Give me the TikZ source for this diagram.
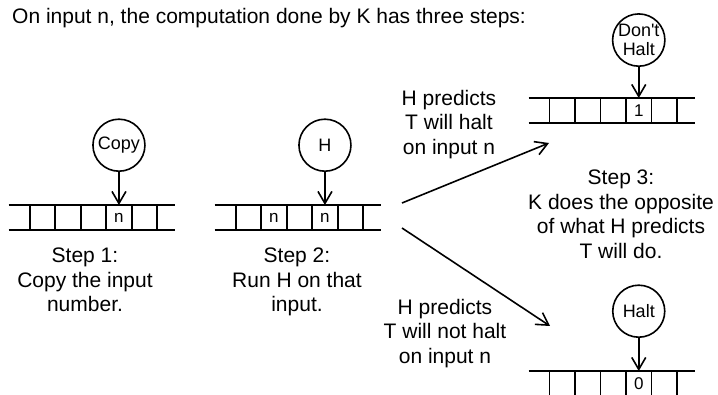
\documentclass[tikz,border=0pt]{standalone}
\usepackage{fontspec}
\setmainfont{Liberation Sans}
\usepackage{tikz}
\usetikzlibrary{arrows.meta,positioning}
\usepackage{xcolor}
\definecolor{lineblack}{RGB}{0,0,0}
\tikzset{
  cell/.style={rectangle, draw=lineblack, line width=1.6pt, minimum width=25.5pt, minimum height=25pt, inner sep=0pt, outer sep=0pt, font=\fontsize{17}{20}\selectfont},
  tapeline/.style={draw=lineblack, line width=1.6pt},
  machine/.style={circle, draw=lineblack, line width=1.6pt, minimum size=52pt, inner sep=0pt, align=center, font=\fontsize{18}{19.5}\selectfont},
  flow/.style={-{Straight Barb[length=12pt,width=14pt]}, line width=1.6pt},
  caption/.style={align=center, inner sep=0pt, anchor=north}
}

\begin{document}
\begin{tikzpicture}[x=1pt, y=-1pt, font=\fontsize{21}{24.7}\selectfont]
\useasboundingbox (0,0) rectangle (718,395);

\node[anchor=base west, inner sep=0pt] (title) at (12,24) {On input n, the computation done by K has three steps:};

% step 1: copy
\foreach \i/\s in {1/,2/,3/,4/n,5/}
  \node[cell] (a\i) at ({29.7+25.5*(\i-0.5)},217.5) {\s};
\draw[tapeline] ([xshift=-21pt]a1.north west) -- ([xshift=18pt]a5.north east);
\draw[tapeline] ([xshift=-21pt]a1.south west) -- ([xshift=18pt]a5.south east);
\node[machine, above=33pt of a4] (copy) {Copy};
\draw[flow] (copy) -- (a4);
\node[caption] (step1) at (85,247.7) {Step 1:\\Copy the input\\number.};

% step 2: run H
\foreach \i/\s in {1/,2/n,3/,4/n,5/}
  \node[cell] (b\i) at ({235.7+25.5*(\i-0.5)},217.5) {\s};
\draw[tapeline] ([xshift=-21pt]b1.north west) -- ([xshift=18pt]b5.north east);
\draw[tapeline] ([xshift=-21pt]b1.south west) -- ([xshift=18pt]b5.south east);
\node[machine, above=33pt of b4] (hmach) {H};
\draw[flow] (hmach) -- (b4);
\node[caption] (step2) at (297,247.7) {Step 2:\\Run H on that\\input.};

% the two predictions
\coordinate (forkhi) at (402,203);
\coordinate (forklo) at (402,228);
\coordinate (halttip) at (549,143);
\coordinate (nohalttip) at (550,326);
\draw[flow] (forkhi) -- (halttip);
\draw[flow] (forklo) -- (nohalttip);
\node[caption] (predhalt) at (449,89.7) {H predicts\\T will halt\\on input n};
\node[caption] (prednohalt) at (445,298.7) {H predicts\\T will not halt\\on input n};

% step 3: do the opposite
\foreach \i/\s in {1/,2/,3/,4/1,5/}
  \node[cell] (c\i) at ({549.5+25.5*(\i-0.5)},110.5) {\s};
\draw[tapeline] ([xshift=-21pt]c1.north west) -- ([xshift=18pt]c5.north east);
\draw[tapeline] ([xshift=-21pt]c1.south west) -- ([xshift=18pt]c5.south east);
\node[machine, above=31pt of c4] (dontstop) {Don\textquotesingle t\\Halt};
\draw[flow] (dontstop) -- (c4);

\foreach \i/\s in {1/,2/,3/,4/0,5/}
  \node[cell] (d\i) at ({549.5+25.5*(\i-0.5)},383.5) {\s};
\draw[tapeline] ([xshift=-21pt]d1.north west) -- ([xshift=18pt]d5.north east);
\draw[tapeline] ([xshift=-21pt]d1.south west) -- ([xshift=18pt]d5.south east);
\node[machine, above=33pt of d4] (stop) {Halt};
\draw[flow] (stop) -- (d4);

\node[caption] (step3) at (621,169.7) {Step 3:\\K does the opposite\\of what H predicts\\T will do.};
\end{tikzpicture}
\end{document}
